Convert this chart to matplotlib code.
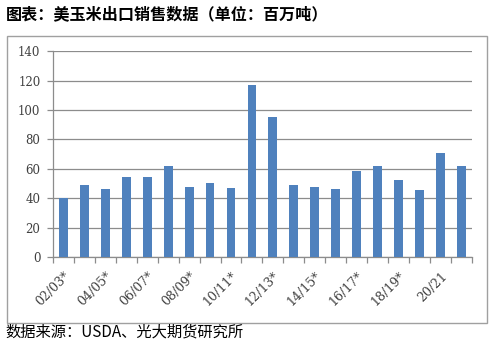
import matplotlib
matplotlib.use("Agg")
import matplotlib.pyplot as plt
from matplotlib.patches import Rectangle

plt.rcParams["font.family"] = ["Noto Sans CJK SC", "DejaVu Sans"]

SEASONS = ["02/03*", "03/04*", "04/05*", "05/06*", "06/07*", "07/08*",
           "08/09*", "09/10*", "10/11*", "11/12*", "12/13*", "13/14*",
           "14/15*", "15/16*", "16/17*", "17/18*", "18/19*", "19/20*",
           "20/21", "21/22"]
SALES = [40.2, 48.8, 46.3, 54.4, 54.4, 62.1, 47.4, 50.3, 47.0, 116.7,
         95.0, 49.0, 47.9, 46.5, 58.5, 62.1, 52.4, 45.6, 70.7, 61.6]
YTICKS = [0, 20, 40, 60, 80, 100, 120, 140]

BAR = "#4F81BD"
GRID = "#8C8C8C"
TICKTXT = "#404040"


def main():
    fig = plt.figure(figsize=(4.93, 3.43), dpi=100)

    # outer frame around the chart
    fig.patches.append(Rectangle((0.014, 0.058), 0.974, 0.837,
                                 transform=fig.transFigure, fill=False,
                                 edgecolor="#A0A0A0", linewidth=1.0))

    ax = fig.add_axes([0.1075, 0.2507, 0.8495, 0.6003])
    xs = range(len(SALES))
    ax.bar(xs, SALES, width=0.42, color=BAR, zorder=3)

    ax.set_xlim(-0.5, len(SALES) - 0.5)
    ax.set_ylim(0, 140)
    ax.set_yticks(YTICKS)
    ax.set_yticklabels([str(v) for v in YTICKS], family="DejaVu Serif",
                       fontsize=8.5, color=TICKTXT)
    ax.yaxis.grid(True, color=GRID, linewidth=0.9, zorder=0)

    # tick marks between categories, labels every other season
    ax.set_xticks([i - 0.5 for i in range(len(SALES) + 1)])
    ax.set_xticklabels([])
    ax.set_xticks(list(xs)[::2], minor=True)
    ax.set_xticklabels(SEASONS[::2], minor=True, rotation=45, ha="right",
                       rotation_mode="anchor", family="DejaVu Serif",
                       fontsize=9, color=TICKTXT)
    ax.tick_params(axis="x", which="minor", length=0, pad=9)
    ax.tick_params(axis="x", which="major", length=4, color=GRID, width=0.9)
    ax.tick_params(axis="y", length=4, color=GRID, width=0.9, pad=5)

    for s in ("top", "right"):
        ax.spines[s].set_visible(False)
    for s in ("left", "bottom"):
        ax.spines[s].set_color(GRID)
        ax.spines[s].set_linewidth(0.9)

    fig.text(0.012, 0.958, "图表：美玉米出口销售数据（单位：百万吨）",
             fontsize=11.6, fontweight="bold", va="center", ha="left")
    fig.text(0.012, 0.032, "数据来源：USDA、光大期货研究所",
             fontsize=11, va="center", ha="left")

    fig.savefig("out.png", dpi=100)


if __name__ == "__main__":
    main()
